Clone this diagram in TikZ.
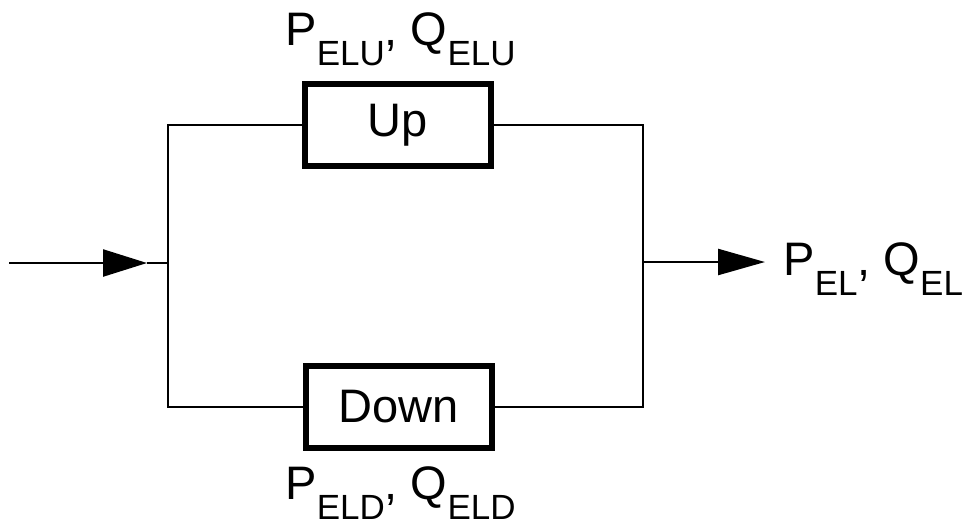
\documentclass[tikz,border=0pt]{standalone}
\usepackage{fontspec}
\setmainfont{Liberation Sans}
\usetikzlibrary{arrows.meta}
\newcommand{\lsub}[1]{\raisebox{-10pt}{\fontsize{17.5}{17.5}\selectfont #1}}

\begin{document}
\begin{tikzpicture}[x=0.5pt,y=-0.5pt,
    block/.style={draw,line width=2.8pt,minimum width=93pt,minimum height=41pt,
      inner sep=0pt,font=\fontsize{23.5}{23.5}\selectfont},
    wire/.style={line width=1.2pt},
    lbl/.style={inner sep=0pt,font=\fontsize{23.5}{23.5}\selectfont}]
    \useasboundingbox (0,0) rectangle (971,527);
    \coordinate (IN) at (9,263);
    \coordinate (TL) at (147,263);
    \coordinate (JL) at (168,263);
    \coordinate (JR) at (643,262);
    \coordinate (TR) at (765,262);
    \node[block] (up) at (398,125) {Up};
    \node[block] (down) at (399,407) {Down};
    \draw[wire] (up.west) -| (JL) |- (down.west);
    \draw[wire] (up.east) -| (JR) |- (down.east);
    \draw[wire,-{Triangle[length=22pt,width=13.5pt]}] (IN) -- (TL);
    \draw[wire] (TL) -- (JL);
    \draw[wire,-{Triangle[length=23.5pt,width=13pt]}] (JR) -- (TR);
    \node[lbl,anchor=base west] (uplbl) at (285,45) {P\lsub{ELU}, Q\lsub{ELU}};
    \node[lbl,anchor=base west] (downlbl) at (285,499) {P\lsub{ELD}, Q\lsub{ELD}};
    \node[lbl,anchor=base west] (outlbl) at (783,275) {P\lsub{EL}, Q\lsub{EL}};
\end{tikzpicture}
\end{document}
